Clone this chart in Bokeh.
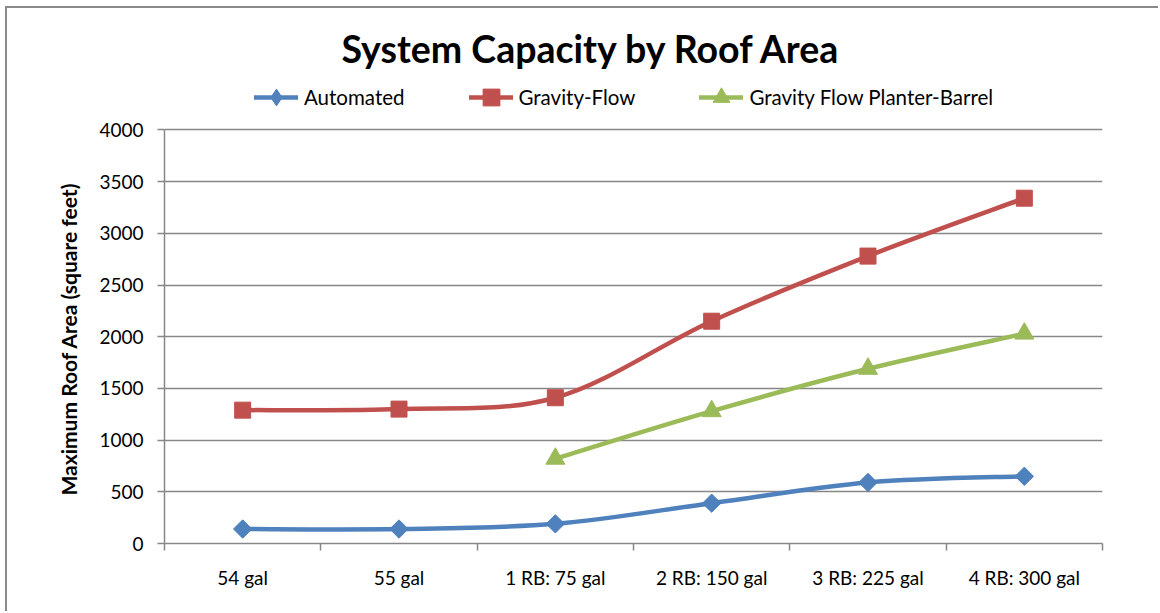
from bokeh.plotting import figure
from bokeh.models import FixedTicker, Legend, LegendItem, Range1d, Title
from bokeh.embed import file_html
from bokeh.resources import INLINE

# --- data -----------------------------------------------------------------
categories = ["54 gal", "55 gal", "1 RB: 75 gal", "2 RB: 150 gal",
              "3 RB: 225 gal", "4 RB: 300 gal"]
automated = [140, 140, 190, 390, 590, 650]
gravity_flow = [1290, 1300, 1410, 2150, 2780, 3340]
planter_barrel = [None, None, 820, 1280, 1690, 2030]
y_ticks = [0, 500, 1000, 1500, 2000, 2500, 3000, 3500, 4000]

BLUE, RED, GREEN = "#4F81BD", "#C0504D", "#9BBB59"
GRID = "#878787"
FONT = "Lato"

# vertical room above the 4000 line holds the legend
Y_MAX = 4000
Y_TOP = 4575

# the chart sits inside a thin grey frame drawn by CSS
OX, OY = 7, 8


def smooth(xs, ys):
    """Cubic Bezier pieces through the points (Catmull-Rom style smoothing)."""
    n = len(xs)
    seg = dict(x0=[], y0=[], x1=[], y1=[], cx0=[], cy0=[], cx1=[], cy1=[])
    for i in range(n - 1):
        p0 = (xs[max(i - 1, 0)], ys[max(i - 1, 0)])
        p1 = (xs[i], ys[i])
        p2 = (xs[i + 1], ys[i + 1])
        p3 = (xs[min(i + 2, n - 1)], ys[min(i + 2, n - 1)])
        seg["x0"].append(p1[0]); seg["y0"].append(p1[1])
        seg["x1"].append(p2[0]); seg["y1"].append(p2[1])
        seg["cx0"].append(p1[0] + (p2[0] - p0[0]) / 6)
        seg["cy0"].append(p1[1] + (p2[1] - p0[1]) / 6)
        seg["cx1"].append(p2[0] - (p3[0] - p1[0]) / 6)
        seg["cy1"].append(p2[1] - (p3[1] - p1[1]) / 6)
    return seg


p = figure(width=1160 - OX, height=613 - OY, output_backend="svg", toolbar_location=None,
           x_range=Range1d(0, len(categories)), y_range=Range1d(0, Y_TOP),
           min_border_left=164 - OX, min_border_right=58, min_border_bottom=70,
           min_border_top=70 - OY, outline_line_color=None,
           background_fill_color="white", border_fill_color="white",
           styles={"margin-left": "5px", "margin-top": "6px",
                   "border-left": "2px solid #8a8a8a",
                   "border-top": "2px solid #8a8a8a"})

p.title.text = "System Capacity by Roof Area"
p.title.text_font = FONT
p.title.text_font_size = "37.5px"
p.title.text_font_style = "bold"
p.title.text_color = "black"
p.title.align = "left"
p.title.offset = 177
p.title.standoff = 0

# axes
p.xaxis.ticker = FixedTicker(ticks=[i + 0.5 for i in range(len(categories))],
                             minor_ticks=list(range(len(categories) + 1)))
p.xaxis.major_label_overrides = {i + 0.5: c for i, c in enumerate(categories)}
p.xaxis.major_tick_line_color = None
p.xaxis.major_tick_out = 0
p.xaxis.minor_tick_out = 7
p.xaxis.minor_tick_in = 0
p.xaxis.minor_tick_line_color = GRID
p.xaxis.major_label_standoff = 15

p.yaxis.ticker = FixedTicker(ticks=y_ticks)
p.yaxis.bounds = (0, Y_MAX)
p.yaxis.minor_tick_line_color = None
p.yaxis.major_tick_out = 7
p.yaxis.major_tick_in = 0
p.yaxis.major_tick_line_color = GRID
p.yaxis.major_label_standoff = 14

for ax in (p.xaxis, p.yaxis):
    ax.axis_line_color = GRID
    ax.axis_line_width = 1.5
    ax.major_tick_line_width = 1.5
    ax.minor_tick_line_width = 1.5
    ax.major_label_text_font = FONT
    ax.major_label_text_font_size = "19px"
    ax.major_label_text_color = "black"

# value-axis caption, centred on the 0-4000 span rather than the whole frame
p.add_layout(Title(text="Maximum Roof  Area (square feet)", align="left", offset=48,
                   standoff=32, text_font=FONT, text_font_size="21px",
                   text_font_style="bold", text_color="black"), "left")

p.xgrid.grid_line_color = None
p.ygrid.grid_line_color = GRID
p.ygrid.grid_line_width = 1.5

series = [
    ("Automated", automated, BLUE, dict(marker="square", angle=0.785398, size=13), "diamond"),
    ("Gravity-Flow", gravity_flow, RED, dict(marker="square", size=16), "square"),
    ("Gravity Flow Planter-Barrel", planter_barrel, GREEN, dict(marker="triangle", size=19), "triangle"),
]

items = []
for name, vals, color, mk, key_marker in series:
    xs = [i + 0.5 for i, v in enumerate(vals) if v is not None]
    ys = [v for v in vals if v is not None]
    seg = smooth(xs, ys)
    curve = p.bezier(source=seg, x0="x0", y0="y0", x1="x1", y1="y1", cx0="cx0",
                     cy0="cy0", cx1="cx1", cy1="cy1", line_color=color,
                     line_width=4.5, line_cap="round")
    p.scatter(xs, ys, fill_color=color, line_color=color, line_width=1, **mk)
    # legend key marker (kept off the data area)
    key = p.scatter([xs[0]], [float("nan")], marker=key_marker,
                    fill_color=color, line_color=color)
    items.append(LegendItem(label=name, renderers=[curve, key]))

legend = Legend(items=items, orientation="horizontal", location=(90, 425),
                margin=0, padding=0, spacing=64, glyph_width=44, glyph_height=42,
                label_standoff=6, label_text_font=FONT, label_text_font_size="20.5px",
                label_text_color="black", border_line_color=None,
                background_fill_alpha=0)
p.add_layout(legend, "center")

open("out.html", "w").write(file_html(p, INLINE))
